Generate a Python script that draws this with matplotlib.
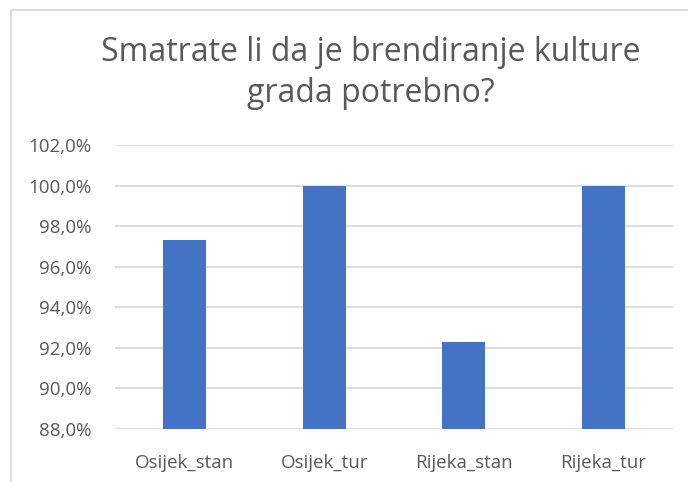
import matplotlib
matplotlib.use("Agg")
import matplotlib.pyplot as plt
from matplotlib.patches import Rectangle
from matplotlib.ticker import FuncFormatter

# answers by group (share saying "yes", %)
categories = ["Osijek_stan", "Osijek_tur", "Rijeka_stan", "Rijeka_tur"]
values = [97.3, 100.0, 92.3, 100.0]
yticks = [88, 90, 92, 94, 96, 98, 100, 102]
title = "Smatrate li da je brendiranje kulture\ngrada potrebno?"

plt.rcParams['font.family'] = ['Open Sans', 'DejaVu Sans']
grey = '#595959'

fig = plt.figure(figsize=(6.88, 4.82), dpi=100)
ax = fig.add_axes([115/688, 1 - 429/482, (673 - 115)/688, (429 - 145)/482])

ax.bar(range(len(categories)), values, width=0.31, color='#4472C4', zorder=3)
ax.set_xlim(-0.5, len(categories) - 0.5)
ax.set_ylim(88, 102)
ax.set_yticks(yticks)
ax.yaxis.set_major_formatter(FuncFormatter(lambda v, p: f"{v:.1f}%".replace('.', ',')))
ax.set_xticks(range(len(categories)))
ax.set_xticklabels(categories)
ax.tick_params(axis='both', length=0, colors=grey, labelsize=13.5)
ax.tick_params(axis='x', pad=18)
ax.tick_params(axis='y', pad=17)
ax.grid(axis='y', color='#d9d9d9', linewidth=1.2, zorder=0)
for s in ax.spines.values():
    s.set_visible(False)

fig.text(371/688, 1 - 73/482, title, ha='center', va='center', fontsize=23,
         color=grey, linespacing=1.3)

# chart border (only left/top are inside the crop)
fig.patches.append(Rectangle((11/688, -0.1), 1.2, 1 - 10/482 + 0.1,
                             transform=fig.transFigure, fill=False,
                             edgecolor='#d9d9d9', linewidth=1.2))

fig.savefig("out.png", dpi=100)
